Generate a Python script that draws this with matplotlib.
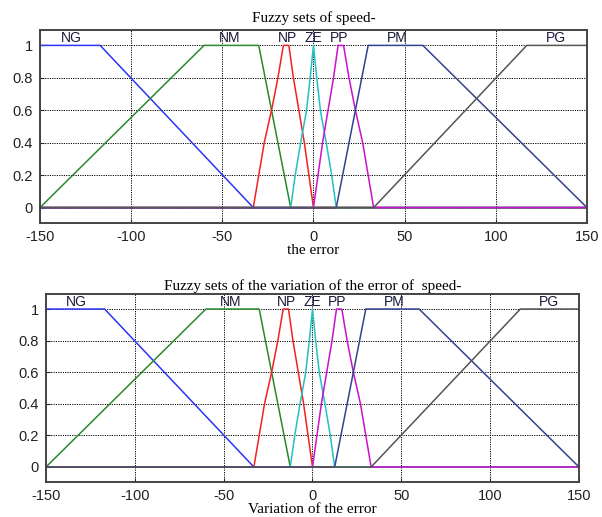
import numpy as np
import matplotlib
matplotlib.use("Agg")
import matplotlib.pyplot as plt

# Membership functions (same partition for error and its variation)
set_names = ["NG", "NM", "NP", "ZE", "PP", "PM", "PG"]
label_x = [-133, -46, -14.5, 0, 14, 46, 133]

ng_x = [-150, -117, -33, 150]
ng_y = [1, 1, 0, 0]
nm_x = [-150, -60, -30, -12.5, 150]
nm_y = [0, 1, 1, 0, 0]
np_x = [-150, -33, -30, -27, -23, -19.5, -16.5, -13.5, -11, -8, -5, -2.5, 0, 150]
np_y = [0, 0, 0.2, 0.4, 0.6, 0.8, 1, 1, 0.8, 0.6, 0.4, 0.2, 0, 0]
ze_x = [-150, -12.5, -10, -7, -3.8, -1.8, 0, 1.8, 3.8, 7, 10, 12.5, 150]
ze_y = [0, 0, 0.2, 0.4, 0.6, 0.8, 1, 0.8, 0.6, 0.4, 0.2, 0, 0]
pp_x = [-150, 0, 2.5, 5, 8, 11, 13.5, 16.5, 19.5, 23, 27, 30, 33, 150]
pp_y = [0, 0, 0.2, 0.4, 0.6, 0.8, 1, 1, 0.8, 0.6, 0.4, 0.2, 0, 0]
pm_x = [-150, 12.5, 30, 60, 150]
pm_y = [0, 0, 1, 1, 0]
pg_x = [-150, 33, 117, 150]
pg_y = [0, 0, 1, 1]

curves = [(ng_x, ng_y), (nm_x, nm_y), (np_x, np_y), (ze_x, ze_y),
          (pp_x, pp_y), (pm_x, pm_y), (pg_x, pg_y)]
colors = ["#2b35f5", "#2a8a2a", "#f52020", "#22c2c2", "#cc10cc", "#34428f", "#555555"]

xticks = [-150, -100, -50, 0, 50, 100, 150]
yticks = [0, 0.2, 0.4, 0.6, 0.8, 1]
ytick_labels = ["0", "0.2", "0.4", "0.6", "0.8", "1"]

sans = "Liberation Sans"
serif = "Liberation Serif"

fig = plt.figure(figsize=(6.02, 5.17), dpi=100)
ax1 = fig.add_axes([0.0664, 0.5687, 0.9086, 0.3733])
ax2 = fig.add_axes([0.0764, 0.0677, 0.8854, 0.3636])


def draw_sets(ax, title, xlabel, title_pad):
    for (xs, ys), c in zip(curves, colors):
        ax.plot(xs, ys, color=c, lw=1.1)
    for name, lx in zip(set_names, label_x):
        ax.text(lx, 1.045, name, ha="center", va="center", fontsize=10,
                family=sans, color="#1a1a3a")
    ax.set_xlim(-150, 150)
    ax.set_ylim(-0.095, 1.095)
    ax.set_xticks(xticks)
    ax.set_xticklabels([str(t) for t in xticks], family=sans, fontsize=10.5)
    ax.set_yticks(yticks)
    ax.set_yticklabels(ytick_labels, family=sans, fontsize=10.5)
    ax.tick_params(direction="in", length=3, pad=5, colors="#222222")
    ax.grid(True, color="black", linestyle=(0, (1.2, 1.2)), linewidth=0.7)
    for s in ax.spines.values():
        s.set_color("#444444")
        s.set_linewidth(1.4)
    ax.set_title(title, family=serif, fontsize=11, pad=title_pad)
    ax.set_xlabel(xlabel, family=serif, fontsize=11, labelpad=0)


draw_sets(ax1, "Fuzzy sets of speed-", "the error", 6)
draw_sets(ax2, "Fuzzy sets of the variation of the error of  speed-",
          "Variation of the error", 3)

fig.savefig("out.png", dpi=100)
